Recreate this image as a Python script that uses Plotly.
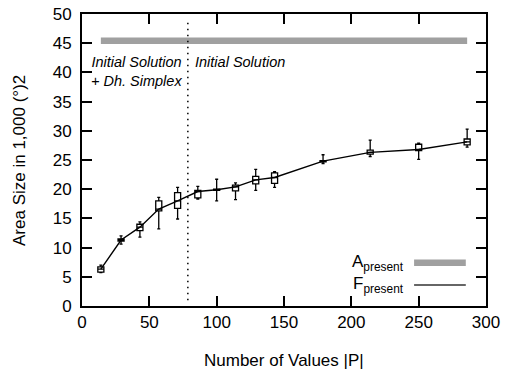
import plotly.graph_objects as go

# ---- data ----
x_vals = [14, 29, 43, 57, 71, 86, 100, 114, 129, 143, 179, 214, 250, 286]
f_present = [6.3, 11.3, 13.5, 16.6, 18.0, 19.6, 19.9, 20.4, 21.6, 22.0, 24.8, 26.3, 26.8, 28.1]
q1_vals = [5.8, 11.1, 12.9, 16.3, 16.7, 18.5, 19.8, 19.7, 20.9, 21.0, 24.7, 26.0, 26.6, 27.6]
q3_vals = [6.7, 11.5, 14.0, 18.0, 19.4, 19.8, 20.0, 20.7, 22.2, 22.8, 24.9, 26.7, 27.7, 28.6]
low_vals = [5.7, 10.6, 11.8, 13.2, 14.9, 18.3, 18.0, 18.2, 19.8, 20.3, 24.4, 25.6, 25.1, 27.2]
high_vals = [7.0, 12.0, 14.4, 18.6, 20.3, 20.5, 21.7, 21.1, 23.4, 23.0, 25.9, 28.4, 27.9, 30.3]
a_present = [45.4, 45.4, 45.4, 45.4, 45.4, 45.4, 45.4, 45.4, 45.4, 45.4, 45.4, 45.4, 45.4, 45.4]
divider_x = 78.6
x_ticks = [0, 50, 100, 150, 200, 250, 300]
y_ticks = [0, 5, 10, 15, 20, 25, 30, 35, 40, 45, 50]

FONT = "Liberation Sans, Arial, sans-serif"

fig = go.Figure()

# A_present (gray thick line)
fig.add_trace(go.Scatter(x=x_vals, y=a_present, mode="lines",
                         line=dict(color="#a0a0a0", width=6.5),
                         name="A<sub>present</sub>", showlegend=False))

# divider
fig.add_trace(go.Scatter(x=[divider_x, divider_x], y=[1, 49], mode="lines",
                         line=dict(color="black", width=1.5, dash="1.5px,4.5px"),
                         showlegend=False, hoverinfo="skip"))

# boxes
fig.add_trace(go.Box(x=x_vals, q1=q1_vals, median=f_present, q3=q3_vals,
                     lowerfence=low_vals, upperfence=high_vals,
                     width=4.5, whiskerwidth=0.5,
                     line=dict(color="black", width=1.3),
                     fillcolor="white", showlegend=False))

# F_present line
fig.add_trace(go.Scatter(x=x_vals, y=f_present, mode="lines",
                         line=dict(color="black", width=1.4),
                         name="F<sub>present</sub>", showlegend=False))

# annotations
fig.add_annotation(x=75.6, y=40.1, xref="x", yref="y", showarrow=False,
                   text="<i>Initial Solution</i><br><i>+ Dh. Simplex</i>",
                   align="right", xanchor="right", yanchor="middle",
                   font=dict(family=FONT, size=14.5, color="black"))
fig.add_annotation(x=82.6, y=41.7, xref="x", yref="y", showarrow=False,
                   text="<i>Initial Solution</i>",
                   align="left", xanchor="left", yanchor="middle",
                   font=dict(family=FONT, size=14.5, color="black"))

# axis titles
fig.add_annotation(x=0.5, y=-0.185, xref="paper", yref="paper", showarrow=False,
                   text="Number of Values |P|", xanchor="center", yanchor="middle",
                   font=dict(family=FONT, size=17, color="black"))
fig.add_annotation(x=-0.156, y=0.5, xref="paper", yref="paper", showarrow=False,
                   text="Area Size in 1,000 (°)2", textangle=-90,
                   xanchor="center", yanchor="middle",
                   font=dict(family=FONT, size=17, color="black"))

# manual legend (gnuplot style: text left, sample right)
fig.add_annotation(x=0.803, y=0.148, xref="paper", yref="paper", showarrow=False,
                   text="A<sub>present</sub>", xanchor="right", yanchor="middle",
                   font=dict(family=FONT, size=17, color="black"))
fig.add_annotation(x=0.803, y=0.072, xref="paper", yref="paper", showarrow=False,
                   text="F<sub>present</sub>", xanchor="right", yanchor="middle",
                   font=dict(family=FONT, size=17, color="black"))
fig.add_shape(type="line", xref="paper", yref="paper", x0=0.822, x1=0.950,
              y0=0.148, y1=0.148, line=dict(color="#a0a0a0", width=6.5))
fig.add_shape(type="line", xref="paper", yref="paper", x0=0.822, x1=0.950,
              y0=0.072, y1=0.072, line=dict(color="#333333", width=1.5))

axis_common = dict(showgrid=False, zeroline=False, showline=True, linecolor="black",
                   linewidth=2, mirror="ticks", ticks="inside", ticklen=10,
                   tickwidth=1.5, tickcolor="black", automargin=False,
                   tickfont=dict(family=FONT, size=17, color="black"))

fig.update_layout(
    width=508, height=376,
    margin=dict(l=82, r=22, t=14, b=70),
    paper_bgcolor="white", plot_bgcolor="white",
    showlegend=False,
    xaxis=dict(range=[0, 300], tickvals=x_ticks, **axis_common),
    yaxis=dict(range=[0, 50], tickvals=y_ticks, ticklabelstandoff=5, **axis_common),
)

fig.write_html("out.html")
